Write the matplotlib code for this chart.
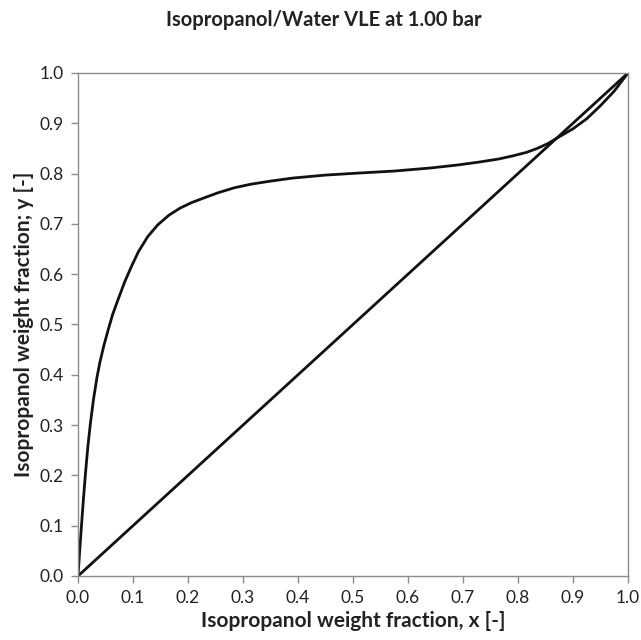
import matplotlib

matplotlib.use("Agg")

import matplotlib.pyplot as plt

# equilibrium curve, weight fractions
x_liq = [0.0, 0.004, 0.0075, 0.01, 0.0135, 0.018, 0.0225, 0.028, 0.0345, 0.04,
         0.047, 0.055, 0.063, 0.073, 0.085, 0.097, 0.11, 0.127, 0.145, 0.165,
         0.185, 0.206, 0.23, 0.255, 0.285, 0.315, 0.35, 0.39, 0.45, 0.51,
         0.575, 0.64, 0.69, 0.73, 0.765, 0.79, 0.815, 0.835, 0.855, 0.87,
         0.9, 0.925, 0.95, 0.975, 1.0]
y_vap = [0.0, 0.065, 0.118, 0.155, 0.203, 0.258, 0.303, 0.35, 0.395, 0.426,
         0.458, 0.49, 0.52, 0.55, 0.585, 0.615, 0.645, 0.675, 0.698, 0.717,
         0.731, 0.742, 0.752, 0.762, 0.772, 0.779, 0.785, 0.791, 0.797, 0.801,
         0.805, 0.811, 0.817, 0.823, 0.829, 0.835, 0.842, 0.85, 0.86, 0.87,
         0.889, 0.909, 0.935, 0.964, 1.0]

# 45 degree line
x_diag = [0.0, 1.0]
y_diag = [0.0, 1.0]

ticks = [0.0, 0.1, 0.2, 0.3, 0.4, 0.5, 0.6, 0.7, 0.8, 0.9, 1.0]
tick_labels = [f"{t:.1f}" for t in ticks]

C_LINE = "#111111"
C_AXIS = "#8c8c8c"
C_TEXT = "#222222"
FONT = ["Lato", "DejaVu Sans"]

fig = plt.figure(figsize=(6.41, 6.40), dpi=100)
ax = fig.add_axes([0.1217, 0.1, 0.858, 0.786])

ax.plot(x_liq, y_vap, color=C_LINE, lw=2.0, solid_joinstyle="round", solid_capstyle="round")
ax.plot(x_diag, y_diag, color=C_LINE, lw=2.0)

ax.set_xlim(0, 1)
ax.set_ylim(0, 1)
ax.set_xticks(ticks)
ax.set_yticks(ticks)
ax.set_xticklabels(tick_labels, fontsize=12.5, color=C_TEXT, family=FONT)
ax.set_yticklabels(tick_labels, fontsize=12.5, color=C_TEXT, family=FONT)
ax.tick_params(direction="out", length=5, width=1, color=C_AXIS, pad=5)
for s in ax.spines.values():
    s.set_color(C_AXIS)
    s.set_linewidth(1.0)

ax.set_xlabel("Isopropanol weight fraction, x [-]", fontsize=15, fontweight="bold",
              color=C_TEXT, family=FONT, labelpad=4)
ax.set_ylabel("Isopropanol weight fraction; y [-]", fontsize=15, fontweight="bold",
              color=C_TEXT, family=FONT, labelpad=4)

fig.text(0.505, 0.968, "Isopropanol/Water VLE at 1.00 bar", ha="center", va="center",
         fontsize=14.5, fontweight="bold", color=C_TEXT, family=FONT)

fig.savefig("out.png", dpi=100, facecolor="white")
